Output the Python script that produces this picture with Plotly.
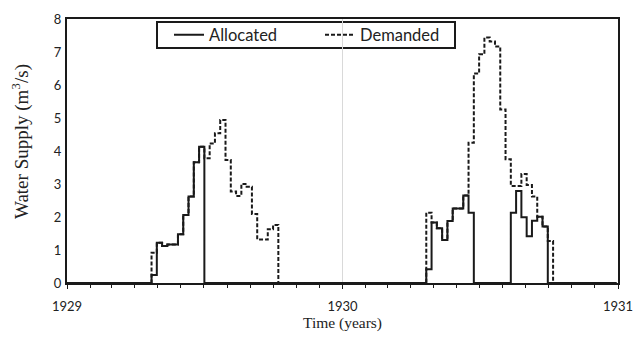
import pandas as pd
import plotly.graph_objects as go

# Weekly series starting 1929-01-01 (105 weeks)
start_date = "1929-01-01"
n_weeks = 105

allocated = [
    0, 0, 0, 0, 0, 0, 0, 0, 0, 0, 0, 0, 0,                          # w0-12
    0, 0, 0, 0.24, 1.22, 1.12, 1.17, 1.17, 1.48, 2.06, 2.62, 3.66, 4.13,  # w13-25
    0, 0, 0, 0, 0, 0, 0, 0, 0, 0, 0, 0, 0,                          # w26-38
    0, 0, 0, 0, 0, 0, 0, 0, 0, 0, 0, 0, 0,                          # w39-51
    0, 0, 0, 0, 0, 0, 0, 0, 0, 0, 0, 0, 0,                          # w52-64
    0, 0, 0, 0.42, 1.83, 1.66, 1.30, 1.88, 2.26, 2.26, 2.65, 2.13, 0,     # w65-77
    0, 0, 0, 0, 0, 0, 2.13, 2.79, 1.99, 1.42, 1.89, 2.01, 1.71,     # w78-90
    0, 0, 0, 0, 0, 0, 0, 0, 0, 0, 0, 0, 0,                          # w91-103
    0,                                                              # w104
]

demanded = [
    0, 0, 0, 0, 0, 0, 0, 0, 0, 0, 0, 0, 0,                          # w0-12
    0, 0, 0, 0.92, 1.22, 1.12, 1.17, 1.17, 1.48, 2.06, 2.62, 3.66, 4.13,  # w13-25
    3.78, 4.23, 4.54, 4.94, 3.73, 2.77, 2.64, 3.00, 2.92, 2.09, 1.32, 1.32, 1.63,  # w26-38
    1.76, 0, 0, 0, 0, 0, 0, 0, 0, 0, 0, 0, 0,                       # w39-51
    0, 0, 0, 0, 0, 0, 0, 0, 0, 0, 0, 0, 0,                          # w52-64
    0, 0, 0, 2.13, 1.83, 1.66, 1.30, 1.88, 2.26, 2.26, 2.65, 4.25, 6.35,  # w65-77
    6.93, 7.44, 7.32, 7.17, 5.26, 3.75, 2.94, 2.94, 3.30, 2.97, 2.62, 2.01, 1.71,  # w78-90
    1.27, 0, 0, 0, 0, 0, 0, 0, 0, 0, 0, 0, 0,                       # w91-103
    0,                                                              # w104
]

x_tick_labels = ["1929", "1930", "1931"]
y_ticks = [0, 1, 2, 3, 4, 5, 6, 7, 8]

dates = pd.date_range(start_date, periods=n_weeks, freq="7D")

ink = "#1a1a1a"
W, H = 635, 338
ML, MR, MT, MB = 67, 17, 19, 55
PW, PH = W - ML - MR, H - MT - MB


def px_x(p):
    return (p - ML) / PW


def px_y(p):
    return (H - MB - p) / PH


fig = go.Figure()
fig.add_trace(go.Scatter(
    x=dates, y=allocated, name="Allocated", mode="lines",
    line=dict(color=ink, width=2, shape="hv"),
))
fig.add_trace(go.Scatter(
    x=dates, y=demanded, name="Demanded", mode="lines",
    line=dict(color=ink, width=2, shape="hv", dash="4px,2px"),
))

tick_font = dict(family="Lato", size=13, color="#222222")
fig.update_layout(
    width=W, height=H,
    margin=dict(l=ML, r=MR, t=MT, b=MB, autoexpand=False),
    paper_bgcolor="white", plot_bgcolor="white",
    showlegend=True,
    legend=dict(
        orientation="h", x=px_x(169), xanchor="left", y=px_y(35), yanchor="middle",
        bgcolor="rgba(0,0,0,0)", borderwidth=0,
        font=dict(family="Lato", size=16.5, color="#222222"),
        entrywidth=106,
        tracegroupgap=0,
    ),
    shapes=[dict(
        type="rect", xref="paper", yref="paper",
        x0=px_x(157), x1=px_x(455), y0=px_y(48), y1=px_y(22),
        line=dict(color=ink, width=2), fillcolor="white", layer="below",
    )],
    xaxis=dict(
        type="date", automargin=False,
        range=["1929-01-01", "1931-01-01"],
        tickvals=["1929-01-01", "1930-01-01", "1931-01-01"],
        ticktext=x_tick_labels,
        ticks="outside", ticklen=4, tickwidth=1, tickcolor=ink,
        showgrid=True, gridcolor="#d9d9d9", gridwidth=1,
        minor=dict(dtick="M1", ticks="outside", ticklen=3, tickcolor=ink, showgrid=False),
        showline=True, linecolor=ink, linewidth=2, mirror=True,
        tickfont=tick_font, ticklabelstandoff=6,
        zeroline=False,
        title=dict(text="Time (years)", font=dict(family="Liberation Serif", size=15.5, color="#222222"), standoff=0),
    ),
    yaxis=dict(
        range=[0, 8], tickvals=y_ticks, ticks="", automargin=False,
        showgrid=False, zeroline=False,
        showline=True, linecolor=ink, linewidth=2, mirror=True,
        tickfont=tick_font, ticklabelstandoff=1,
    ),
    annotations=[dict(
        text="Water Supply (m<sup>3</sup>/s)", textangle=-90,
        xref="paper", yref="paper", x=px_x(20), y=px_y(142),
        xanchor="center", yanchor="middle", showarrow=False,
        font=dict(family="Liberation Serif", size=19, color="#222222"),
    )],
)

# remove the default page margin so the figure sits at the window's top-left corner
fig.write_html(
    "out.html",
    config={"displayModeBar": False},
    post_script="document.body.style.margin='0';",
)
